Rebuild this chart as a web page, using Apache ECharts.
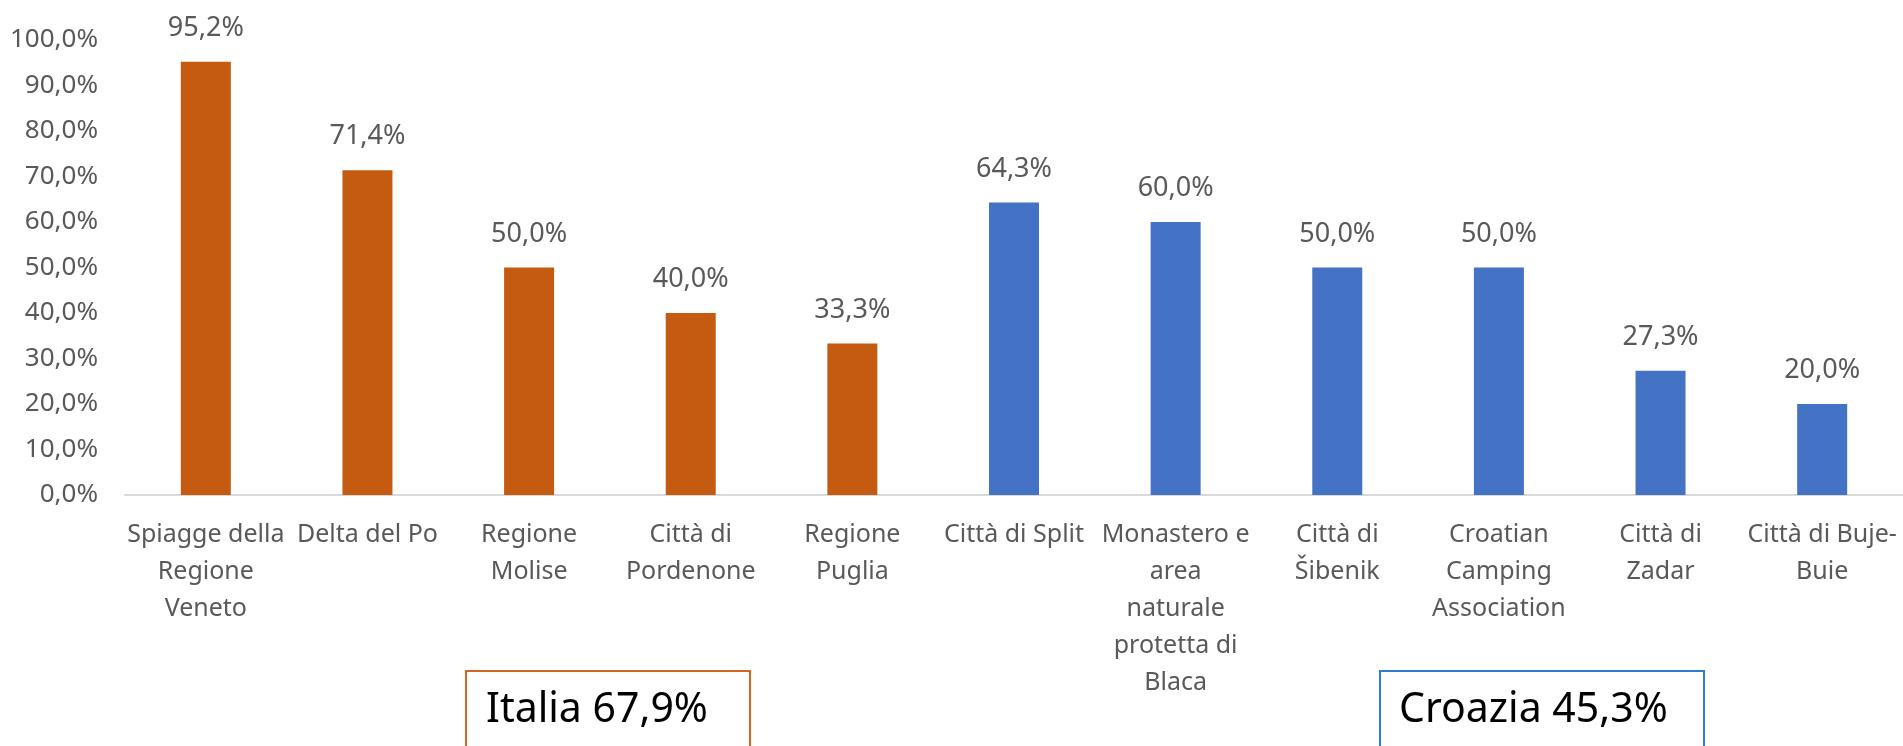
<!DOCTYPE html>
<html>
<head>
<meta charset="utf-8">
<script src="https://cdn.jsdelivr.net/npm/echarts@6/dist/echarts.min.js"></script>
<style>
  html, body { margin: 0; padding: 0; background: #fff; }
  #chart { width: 1903px; height: 746px; }
</style>
</head>
<body>
<div id="chart"></div>
<script>
  // categorie e valori
  const categories = [
    'Spiagge della\nRegione\nVeneto',
    'Delta del Po',
    'Regione\nMolise',
    'Città di\nPordenone',
    'Regione\nPuglia',
    'Città di Split',
    'Monastero e\narea\nnaturale\nprotetta di\nBlaca',
    'Città di\nŠibenik',
    'Croatian\nCamping\nAssociation',
    'Città di\nZadar',
    'Città di Buje-\nBuie'
  ];
  const values = [95.2, 71.4, 50.0, 40.0, 33.3, 64.3, 60.0, 50.0, 50.0, 27.3, 20.0];
  const countries = ['it', 'it', 'it', 'it', 'it', 'hr', 'hr', 'hr', 'hr', 'hr', 'hr'];
  const boxTexts = ['Italia 67,9%', 'Croazia 45,3%'];

  const colorIt = '#C55A11';
  const colorHr = '#4472C4';
  const font = '"Noto Sans", sans-serif';

  function pct(v) {
    return v.toFixed(1).replace('.', ',') + '%';
  }

  let chart = echarts.init(document.getElementById('chart'));
  let option = {
    animation: false,
    grid: {
      left: 125,
      right: 0,
      top: 40,
      bottom: 251,
      containLabel: false
    },
    xAxis: {
      type: 'category',
      data: categories,
      axisLine: { lineStyle: { color: '#D9D9D9', width: 2 } },
      axisTick: { show: false },
      axisLabel: {
        interval: 0,
        color: '#595959',
        fontFamily: font,
        fontSize: 25,
        lineHeight: 37,
        margin: 21
      }
    },
    yAxis: {
      type: 'value',
      min: 0,
      max: 100,
      interval: 10,
      splitLine: { show: false },
      axisLine: { show: false },
      axisTick: { show: false },
      axisLabel: {
        color: '#595959',
        fontFamily: font,
        fontSize: 26,
        margin: 27,
        formatter: (v) => pct(v)
      }
    },
    series: [{
      type: 'bar',
      barWidth: 50,
      data: values.map((v, i) => ({
        value: v,
        itemStyle: { color: countries[i] === 'it' ? colorIt : colorHr }
      })),
      label: {
        show: true,
        position: 'top',
        distance: 20,
        color: '#595959',
        fontFamily: font,
        fontSize: 27,
        formatter: (p) => pct(p.value)
      }
    }],
    graphic: [
      {
        type: 'rect',
        shape: { x: 466, y: 671, width: 284, height: 120 },
        style: { fill: '#fff', stroke: '#D0661F', lineWidth: 2 }
      },
      {
        type: 'text',
        x: 486, y: 710,
        style: {
          text: boxTexts[0], fill: '#000', fontFamily: font, fontSize: 41,
          verticalAlign: 'middle'
        }
      },
      {
        type: 'rect',
        shape: { x: 1380, y: 671, width: 324, height: 120 },
        style: { fill: '#fff', stroke: '#2E7DD1', lineWidth: 2 }
      },
      {
        type: 'text',
        x: 1399, y: 710,
        style: {
          text: boxTexts[1], fill: '#000', fontFamily: font, fontSize: 41,
          verticalAlign: 'middle'
        }
      }
    ]
  };
  chart.setOption(option);
</script>
</body>
</html>
